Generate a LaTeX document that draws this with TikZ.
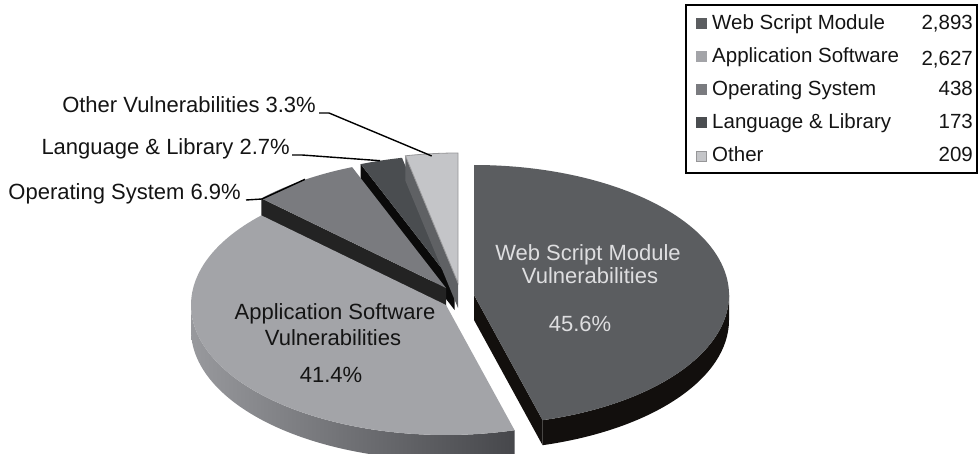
\documentclass[tikz,border=0pt]{standalone}
\usepackage{fontspec}
\setmainfont{Liberation Sans}
\begin{document}
\begin{tikzpicture}[x=1pt,y=1pt]
\useasboundingbox (0,0) rectangle (979,453);
\definecolor{webtop}{RGB}{91,93,96}
\definecolor{webside}{RGB}{18,15,13}
\definecolor{apptop}{RGB}{163,164,168}
\definecolor{appsideL}{RGB}{152,153,157}
\definecolor{appsideR}{RGB}{70,71,75}
\definecolor{ostop}{RGB}{122,123,127}
\definecolor{osside}{RGB}{35,35,35}
\definecolor{langtop}{RGB}{74,77,80}
\definecolor{langside}{RGB}{10,10,10}
\definecolor{othtop}{RGB}{196,197,200}
\definecolor{othline}{RGB}{150,150,152}
\definecolor{othside}{RGB}{95,97,100}
\definecolor{webtxt}{RGB}{222,222,224}
\definecolor{txt}{RGB}{20,20,20}
\tikzset{
  lbl/.style={font=\fontsize{22}{26}\selectfont, inner sep=0pt, text=txt},
  leg/.style={font=\fontsize{20.5}{24}\selectfont, inner sep=0pt, text=txt},
  leader/.style={draw=black, line width=1.4pt},
  legbox/.style={draw=black, line width=1.5pt},
}
\newcommand\pieTop[4]{\fill[#4] (#1) -- ++(#2:255pt and 130pt) arc[start angle=#2, end angle=#3, x radius=255pt, y radius=130pt] -- cycle;}
\newcommand\pieWall[3]{\fill[#3] (#1) -- ++(#2:255pt and 130pt) -- ++(0,-25) -- ++(180+#2:255pt and 130pt) -- cycle;}
% centres of the slices
\coordinate (Vw) at (474,158);
\coordinate (Va) at (446,148);
\coordinate (Vo) at (446,165);
\coordinate (Vl) at (454.6,168);
\coordinate (Vt) at (458,170);
% Language & Library
\pieWall{Vl}{111.6}{langside}
\pieTop{Vl}{101.9}{111.6}{langtop}
% Other
\pieWall{Vt}{101.9}{othside}
\pieTop{Vt}{90}{101.9}{othtop}
\draw[othline, line width=0.8pt] (Vt) -- ++(90:255pt and 130pt) arc[start angle=90, end angle=101.9, x radius=255pt, y radius=130pt] -- cycle;
% Operating System
\pieWall{Vo}{136.4}{osside}
\pieTop{Vo}{111.6}{136.4}{ostop}
% Application Software
\shade[left color=appsideL, right color=appsideR] (Va) ++(180:255pt and 130pt) arc[start angle=180, end angle=285.6, x radius=255pt, y radius=130pt] -- ++(0,-25) arc[start angle=285.6, end angle=180, x radius=255pt, y radius=130pt] -- cycle;
\pieTop{Va}{136.4}{285.6}{apptop}
% Web Script Module
\pieWall{Vw}{285.6}{webside}
\fill[webside] (Vw) ++(285.6:255pt and 130pt) arc[start angle=285.6, end angle=360, x radius=255pt, y radius=130pt] -- ++(0,-25) arc[start angle=360, end angle=285.6, x radius=255pt, y radius=130pt] -- cycle;
\pieTop{Vw}{-74.4}{90}{webtop}
% labels inside
\node[lbl, text=webtxt, anchor=base] (wl1) at (588,193) {Web Script Module};
\node[lbl, text=webtxt, anchor=base] (wl2) at (590,170) {Vulnerabilities};
\node[lbl, text=webtxt, anchor=base] (wl3) at (580,122) {45.6\%};
\node[lbl, anchor=base] (al1) at (335,134) {Application Software};
\node[lbl, anchor=base] (al2) at (333,108) {Vulnerabilities};
\node[lbl, anchor=base] (al3) at (331,71) {41.4\%};
% outside labels with leaders
\coordinate (cOther) at (431.7,297);
\coordinate (cLang) at (380,292.3);
\coordinate (cOS) at (305,273.7);
\node[lbl, anchor=base east] (lother) at (316,340) {Other Vulnerabilities 3.3\%};
\node[lbl, anchor=base east] (llang) at (290,298) {Language \& Library 2.7\%};
\node[lbl, anchor=base east] (los) at (241,253) {Operating System 6.9\%};
\draw[leader] ([xshift=3pt]lother.base east) -- ++(10,0) -- (cOther);
\draw[leader] ([xshift=2pt]llang.base east) -- ++(10,0) -- (cLang);
\draw[leader] ([xshift=5pt]los.base east) -- ++(16,1) -- (cOS);
% legend
\draw[legbox] (686,448) rectangle (977,280);
\fill[webtop] (696,423.5) rectangle ++(11,11);
\fill[apptop] (696,390.5) rectangle ++(11,11);
\fill[ostop] (696,357.5) rectangle ++(11,11);
\fill[langtop] (696,324.5) rectangle ++(11,11);
\filldraw[fill=othtop, draw=othline, line width=0.8pt] (696.5,292) rectangle ++(10,10);
\node[leg, anchor=base west] (g1) at (712,423.5) {Web Script Module};
\node[leg, anchor=base west] (g2) at (712,390.5) {Application Software};
\node[leg, anchor=base west] (g3) at (712,357.5) {Operating System};
\node[leg, anchor=base west] (g4) at (712,324.5) {Language \& Library};
\node[leg, anchor=base west] (g5) at (712,291.5) {Other};
\node[leg, anchor=base east] (n1) at (973,423.5) {2,893};
\node[leg, anchor=base east] (n2) at (973,387) {2,627};
\node[leg, anchor=base east] (n3) at (973,357.5) {438};
\node[leg, anchor=base east] (n4) at (973,324.5) {173};
\node[leg, anchor=base east] (n5) at (973,291.5) {209};
\end{tikzpicture}
\end{document}
